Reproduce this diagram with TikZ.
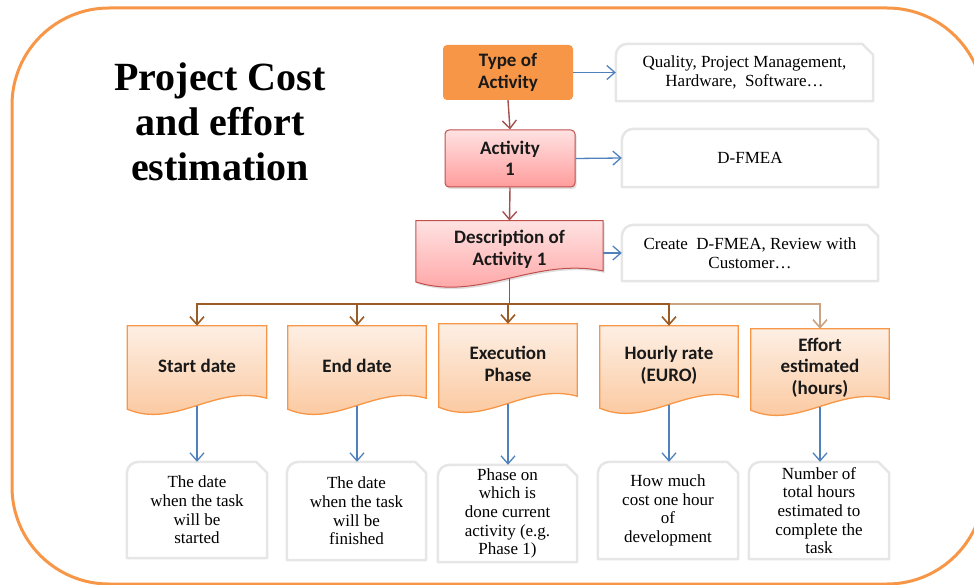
\documentclass[tikz,border=0pt]{standalone}
\usepackage{fontspec}
\setmainfont{Liberation Serif}
\newfontfamily\boxfont{Carlito}
\usetikzlibrary{arrows.meta,calc,backgrounds,shadows}

\definecolor{accent}{HTML}{F79646}
\definecolor{redline}{HTML}{C0504D}
\definecolor{linkred}{HTML}{A3504F}
\definecolor{bluelink}{HTML}{4F81BD}
\definecolor{busbrown}{HTML}{9B5B25}
\definecolor{buslight}{HTML}{C9A382}
\definecolor{pinktop}{HTML}{FFE2E2}
\definecolor{pinkbot}{HTML}{FF9C9C}
\definecolor{peachtop}{HTML}{FDEFE4}
\definecolor{peachbot}{HTML}{FBC497}
\definecolor{softgray}{HTML}{E6E6E6}

% document (wavy bottom) outline around a named node
\newcommand\docshape[2]{%
  \path[#2] (#1.north west) -- (#1.north east)
    -- ($(#1.south east)+(0,-7.5)$)
    .. controls ($(#1.south west)!0.63!(#1.south east)+(0,-21.5)$)
            and ($(#1.south west)!0.34!(#1.south east)+(0,23.5)$)
    .. ($(#1.south west)+(0,3.5)$) -- cycle;}

% note outline: rounded top-left corner, snipped top-right corner
\newcommand\noteshape[1]{%
  \draw[noteline] (#1.south west) -- ($(#1.north west)+(0,12)$)
    .. controls ($(#1.north west)+(0,5)$) and ($(#1.north west)+(5,0)$)
    .. ($(#1.north west)+(12,0)$)
    -- ($(#1.north east)+(-11,0)$) -- ($(#1.north east)+(0,11)$)
    -- (#1.south east) -- cycle;}

\begin{document}
\begin{tikzpicture}[x=1pt,y=-1pt,
  lbl/.style={font=\boxfont\bfseries\fontsize{19}{21.5}\selectfont,
    text=black!90, align=center, inner sep=0pt},
  note/.style={font=\fontsize{17}{18.7}\selectfont, align=center,
    text=black, inner sep=0pt},
  noteline/.style={draw=softgray, line width=2.5pt, line join=round},
  pinkfill/.style={draw=redline, line width=1pt, top color=pinktop,
    bottom color=pinkbot,
    drop shadow={opacity=0.25, shadow xshift=1.5pt, shadow yshift=-2pt}},
  peachfill/.style={draw=accent, line width=1.3pt, top color=peachtop,
    bottom color=peachbot},
  tip/.style={-{Straight Barb[length=8pt,width=14pt]}},
  bluearrow/.style={tip, draw=bluelink, line width=1.3pt},
  redarrow/.style={tip, draw=linkred, line width=1.4pt},
  busline/.style={draw=busbrown, line width=1.6pt},
  busarrow/.style={tip, draw=busbrown, line width=1.6pt},
  buslightarrow/.style={tip, draw=buslight, line width=1.6pt},
  title/.style={font=\bfseries\fontsize{40}{45}\selectfont, align=center}]

\useasboundingbox (0,0) rectangle (974,585);

% outer frame
\draw[accent, line width=3pt, rounded corners=97pt] (12,8) rectangle (984,584);

% heading
\node[title] (title) at (220,122) {Project Cost\\and effort\\estimation};

% main chain
\node[lbl, fill=accent, rounded corners=4pt, minimum width=130pt,
      minimum height=55pt] (type) at (508,72.5) {Type of\\Activity};
\node[lbl, pinkfill, rounded corners=4pt, minimum width=130pt,
      minimum height=57pt] (act) at (510,158.5) {Activity\\1};
\node[lbl, minimum width=187pt, minimum height=57.5pt] (desc)
      at (509.5,249.5) {Description of\\Activity 1};

% notes on the right
\node[note, minimum width=257pt, minimum height=57pt] (q) at (744.5,72.5)
      {Quality, Project Management,\\Hardware,\ \ Software\dots};
\node[note, minimum width=256pt, minimum height=58pt] (d) at (750,158)
      {D-FMEA};
\node[note, minimum width=256pt, minimum height=56pt] (c) at (750,253)
      {Create\ \ D-FMEA, Review with\\Customer\dots};

% attribute boxes
\node[lbl, minimum width=139pt, minimum height=79.5pt] (sd) at (197,365.75)
      {Start date};
\node[lbl, minimum width=138pt, minimum height=79.5pt] (ed) at (357,365.75)
      {End date};
\node[lbl, minimum width=138pt, minimum height=79.5pt] (ex) at (508,363.75)
      {Execution\\Phase};
\node[lbl, minimum width=138pt, minimum height=78.5pt] (hr) at (669,365.25)
      {Hourly rate\\(EURO)};
\node[lbl, minimum width=138pt, minimum height=77.5pt] (ef) at (820,367.75)
      {Effort\\estimated\\(hours)};

% explanations
\node[note, minimum width=140pt, minimum height=96pt] (b1) at (197,510)
      {The date\\when the task\\will be\\started};
\node[note, minimum width=139pt, minimum height=98pt] (b2) at (356.5,511)
      {The date\\when the task\\will be\\finished};
\node[note, minimum width=139pt, minimum height=97pt] (b3) at (507.5,513.5)
      {Phase on\\which is\\done current\\activity (e.g.\\Phase 1)};
\node[note, minimum width=140pt, minimum height=97pt] (b4) at (668,510.5)
      {How much\\cost one hour\\of\\development};
\node[note, minimum width=140pt, minimum height=97pt] (b5) at (819,510.5)
      {Number of\\total hours\\estimated to\\complete the\\task};

% shapes behind the texts
\begin{scope}[on background layer]
  \docshape{desc}{pinkfill}
  \docshape{sd}{peachfill}
  \docshape{ed}{peachfill}
  \docshape{ex}{peachfill}
  \docshape{hr}{peachfill}
  \docshape{ef}{peachfill}
  \noteshape{q}
  \noteshape{d}
  \noteshape{c}
  \noteshape{b1}
  \noteshape{b2}
  \noteshape{b3}
  \noteshape{b4}
  \noteshape{b5}
\end{scope}

% connectors of the chain
\draw[redarrow] (type.south) -- (act.north);
\draw[redarrow] (act.south) -- (desc.north);
\draw[bluearrow] (type.east) -- (q.west);
\draw[bluearrow] (act.east) -- (d.west);
\draw[bluearrow] (c.west -| desc.east) -- (c.west);

% distribution bus
\coordinate (hub) at (509.5,304);
\draw[buslightarrow] (hub) -| (ef.north);
\draw[busline] (desc.south) -- (hub);
\draw[busarrow] (hub) -| (sd.north);
\draw[busarrow] (hub) -| (ed.north);
\draw[busarrow] (hub) -| (ex.north);
\draw[busarrow] (hub) -| (hr.north);

% attribute to explanation
\draw[bluearrow] (sd.south) -- (sd.south |- b1.north);
\draw[bluearrow] (ed.south) -- (ed.south |- b2.north);
\draw[bluearrow] (ex.south) -- (ex.south |- b3.north);
\draw[bluearrow] (hr.south) -- (hr.south |- b4.north);
\draw[bluearrow] (ef.south) -- (ef.south |- b5.north);
\end{tikzpicture}
\end{document}
